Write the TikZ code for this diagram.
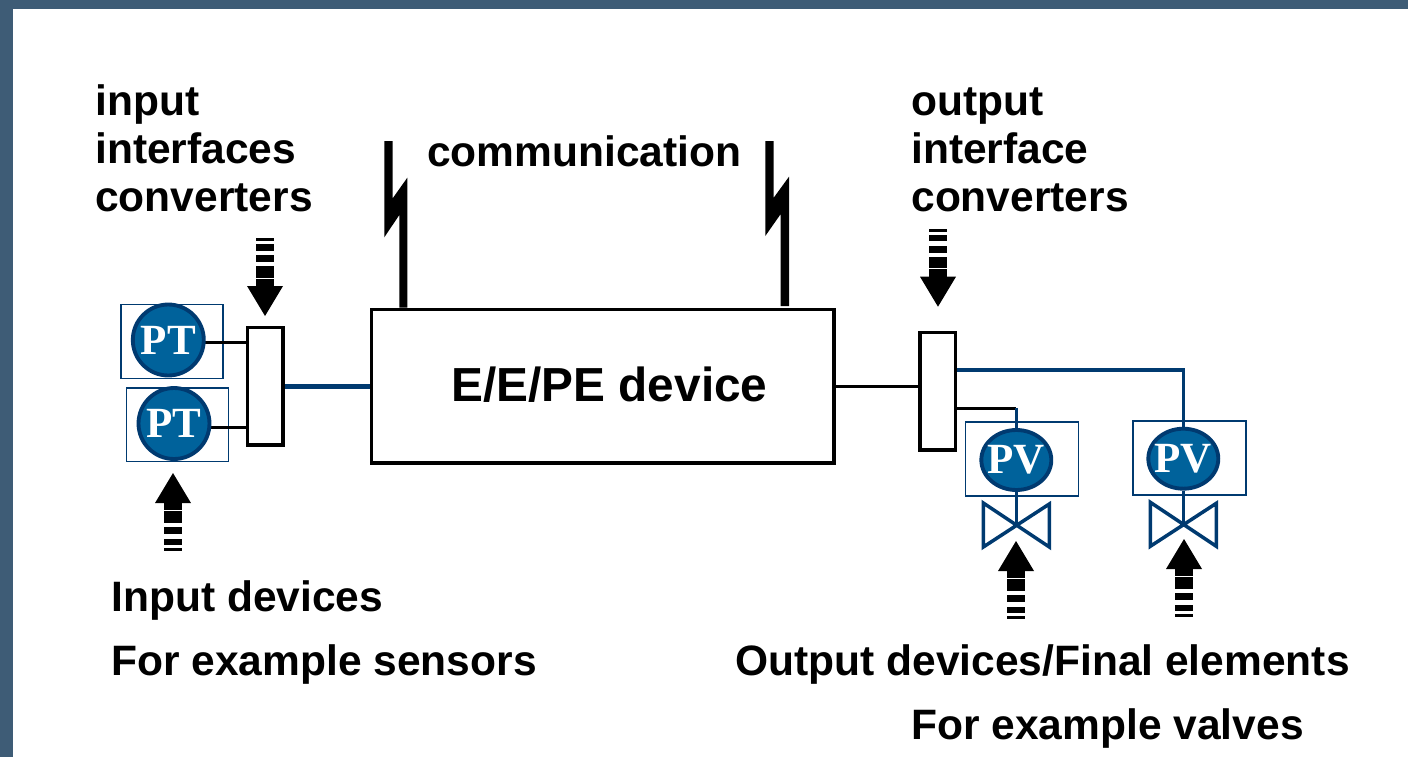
\documentclass[tikz,border=0pt]{standalone}
\usepackage{fontspec}
\setmainfont{Liberation Sans}
\newfontfamily\tagfont{Liberation Serif}
\usetikzlibrary{positioning, shapes.geometric}
\definecolor{moldura}{RGB}{62, 92, 118}
\definecolor{marinho}{RGB}{0, 58, 112}
\definecolor{petroleo}{RGB}{0, 98, 155}
\tikzset{
  rotulo/.style={anchor=base west, inner sep=0pt, align=left, font=\fontsize{24.2}{27.3}\selectfont\bfseries},
  caixaline/.style={draw=black, line width=2.2pt, fill=white, inner sep=0pt},
  quadro/.style={draw=marinho, line width=0.8pt, fill=white, inner sep=0pt},
  marca/.style={draw=marinho, line width=2.2pt, fill=petroleo, text=white, inner sep=-8pt,
    font=\tagfont\fontsize{24.5}{24.5}\selectfont\bfseries},
  fio/.style={draw=black, line width=1.8pt},
  fioazul/.style={draw=marinho, line width=1.8pt},
  listrada/.pic={
    \fill (0,0) -- (18,-30) -- (-18,-30) -- cycle;
    \foreach \a/\b in {29/37.3, 38.3/50, 54/61, 65.5/72, 75/78}
      \fill (-9,-\a) rectangle (9,-\b);
  },
  valvula/.pic={
    \draw[fioazul, line width=2pt, line join=miter] (-33,-22) -- (33,22) -- (33,-21) -- (-33,22) -- cycle;
  },
}
\begin{document}
\begin{tikzpicture}[x=0.02cm, y=-0.02cm]
\useasboundingbox (0,0) rectangle (1408,757);
\fill[moldura] (0,0) rectangle (1408,9);
\fill[moldura] (0,0) rectangle (13,757);

% labels
\node[rotulo] (titin) at (95,211) {input\\interfaces\\converters};
\node[rotulo] (titcom) at (427,166) {communication};
\node[rotulo] (titout) at (911,211) {output\\interface\\converters};
\node[rotulo] (titsens) at (111,611) {Input devices};
\node[rotulo] (titex) at (111,675) {For example sensors};
\node[rotulo] (titfinal) at (735,675) {Output devices/Final elements};
\node[rotulo] (titval) at (911,739) {For example valves};

% E/E/PE device and converters
\node[caixaline, minimum width=9.25cm, minimum height=3.07cm] (device) at (602.75,386.25) {};
\node[rotulo, font=\fontsize{27.2}{27.2}\selectfont\bfseries] (devlabel) at (451,401) {E/E/PE device};
\node[caixaline, minimum width=0.71cm, minimum height=2.35cm] (inbox) at (265.25,386.25) {};
\node[caixaline, minimum width=0.71cm, minimum height=2.35cm] (outbox) at (937.75,391.25) {};

% sensors
\node[quadro, minimum width=2.04cm, minimum height=1.47cm] (fr1) at (171.85,341.5) {};
\node[quadro, minimum width=2.04cm, minimum height=1.47cm] (fr2) at (177.7,424.65) {};
\coordinate (pt1out) at (205,342.7);
\coordinate (pt2out) at (211,427.3);
\draw[fio] (pt1out) -- (pt1out -| inbox.west);
\draw[fio] (pt2out) -- (pt2out -| inbox.west);
\node[marca, circle, minimum size=1.42cm] (pt1) at (168.3,340) {PT};
\node[marca, circle, minimum size=1.42cm] (pt2) at (174,423.5) {PT};
\draw[fioazul, line width=2.8pt] (inbox.east) -- (device.west);

% valves
\node[quadro, minimum width=2.26cm, minimum height=1.48cm] (fr3) at (1022.2,459) {};
\node[quadro, minimum width=2.26cm, minimum height=1.48cm] (fr4) at (1189.35,457.85) {};
\coordinate (out1) at (957,370);
\coordinate (out2) at (957,408.7);
\coordinate (valve1) at (1016.3,525);
\coordinate (valve2) at (1183.3,524.3);
\draw[fio] (device.east) -- (outbox.west |- device.east);
\draw[fioazul] (out1) -| (1183.7,427);
\draw[fio] (out2) -- (1016.3,408.7);
\draw[fioazul] (1016.3,407.8) -- (1016.3,428);
\node[marca, ellipse, minimum width=1.4cm, minimum height=1.2cm] (pv1) at (1016.3,460) {PV};
\node[marca, ellipse, minimum width=1.4cm, minimum height=1.2cm] (pv2) at (1183.3,458.7) {PV};
\draw[fioazul] (pv1.south) -- (valve1);
\draw[fioazul] (pv2.south) -- (valve2);
\pic at (valve1) {valvula};
\pic at (valve2) {valvula};

% communication links
\fill (384.3,141) -- (392.7,141) -- (392.7,198.3) -- (407.3,177.7) -- (407.3,307.5)
  -- (399.3,307.5) -- (399.3,215) -- (384.3,237.3) -- cycle;
\fill (765.3,141) -- (773.7,141) -- (773.7,197.7) -- (789,176.7) -- (789,306)
  -- (780.7,306) -- (780.7,214) -- (765.3,236) -- cycle;

% arrows
\pic at (265,316) {listrada};
\pic at (938,306.7) {listrada};
\pic[yscale=-1] at (173,473) {listrada};
\pic[yscale=-1] at (1016,541) {listrada};
\pic[yscale=-1] at (1184,539) {listrada};
\end{tikzpicture}
\end{document}
